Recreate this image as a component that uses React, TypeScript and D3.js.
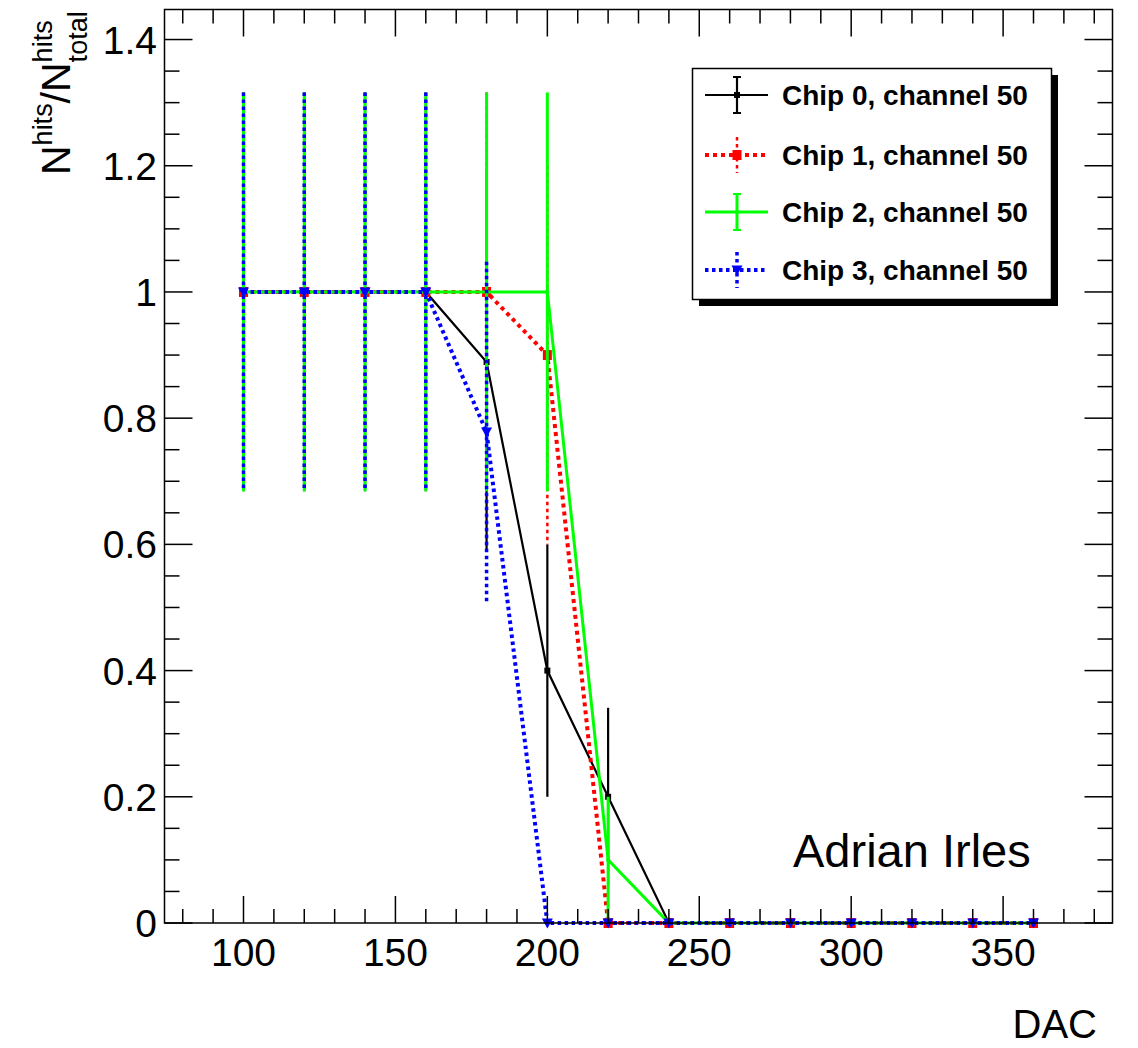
import React from "react";
import * as d3 from "d3";

const dacValues = [100, 120, 140, 160, 180, 200, 220, 240, 260, 280, 300, 320, 340, 360];
const chip0Values = [1, 1, 1, 1, 0.889, 0.4, 0.2, 0, 0, 0, 0, 0, 0, 0];
const chip0Errors = [0.316, 0.316, 0.316, 0.316, 0.3, 0.2, 0.141, 0, 0, 0, 0, 0, 0, 0];
const chip1Values = [1, 1, 1, 1, 1, 0.9, 0, 0, 0, 0, 0, 0, 0, 0];
const chip1Errors = [0.316, 0.316, 0.316, 0.316, 0.316, 0.3, 0, 0, 0, 0, 0, 0, 0, 0];
const chip2Values = [1, 1, 1, 1, 1, 1, 0.1, 0, 0, 0, 0, 0, 0, 0];
const chip2Errors = [0.316, 0.316, 0.316, 0.316, 0.316, 0.316, 0.1, 0, 0, 0, 0, 0, 0, 0];
const chip3Values = [1, 1, 1, 1, 0.778, 0, 0, 0, 0, 0, 0, 0, 0, 0];
const chip3Errors = [0.316, 0.316, 0.316, 0.316, 0.27, 0, 0, 0, 0, 0, 0, 0, 0, 0];
const seriesLabels = ["Chip 0, channel 50", "Chip 1, channel 50", "Chip 2, channel 50", "Chip 3, channel 50"];
const xMajorTicks = [100, 150, 200, 250, 300, 350];
const yMajorTicks = [0, 0.2, 0.4, 0.6, 0.8, 1, 1.2, 1.4];

const W = 1138;
const H = 1048;
const FONT = "'Liberation Sans', Arial, Helvetica, sans-serif";
const L = 164.5, R = 1112.5, T = 9.5, B = 923;

type Style = {
  color: string;
  width: number;
  dash: string | null;
  errWidth: number;
  errDash: string | null;
  marker: "square" | "bigsquare" | "dot" | "tri";
};

const styles: Style[] = [
  { color: "#000000", width: 2.2, dash: null, errWidth: 2.2, errDash: null, marker: "square" },
  { color: "#ff0000", width: 4, dash: "4,4", errWidth: 2.5, errDash: "3.5,3.5", marker: "bigsquare" },
  { color: "#00ff00", width: 3, dash: null, errWidth: 3, errDash: null, marker: "dot" },
  { color: "#0000ff", width: 4, dash: "3.5,3.5", errWidth: 3.5, errDash: "3.5,3.5", marker: "tri" },
];

function Marker({ x, y, s }: { x: number; y: number; s: Style }) {
  if (s.marker === "square") return <rect x={x - 3} y={y - 3} width={6} height={6} fill={s.color} />;
  if (s.marker === "bigsquare") return <rect x={x - 4.5} y={y - 5} width={9} height={10} fill={s.color} />;
  if (s.marker === "dot") return <circle cx={x} cy={y} r={2} fill={s.color} />;
  return <path d={`M${x - 5.5},${y - 4.5}L${x + 5.5},${y - 4.5}L${x},${y + 5.5}Z`} fill={s.color} />;
}

export default function App() {
  const x = d3.scaleLinear().domain([74, 386]).range([L, R]);
  const y = d3.scaleLinear().domain([0, 1.4476]).range([B, T]);
  const series = [
    { v: chip0Values, e: chip0Errors },
    { v: chip1Values, e: chip1Errors },
    { v: chip2Values, e: chip2Errors },
    { v: chip3Values, e: chip3Errors },
  ];
  const line = d3
    .line<number>()
    .x((_, i) => x(dacValues[i]))
    .y((d) => y(d));

  const xMinor = d3.range(80, 386, 10).filter((v) => !xMajorTicks.includes(v));
  const yMinor = d3
    .range(0, 1.4476, 0.05)
    .map((v) => +v.toFixed(2))
    .filter((v) => !yMajorTicks.some((m) => Math.abs(m - v) < 1e-6));

  const fmtY = (v: number) => String(+v.toFixed(1));

  // y label pieces (Arial metrics)
  const big = 41, small = 27;
  const wN = 0.722 * big, wHits = 1.556 * small, wSlash = 0.278 * big;
  const u0 = -175;
  const uHits1 = u0 + wN;
  const uSlash = uHits1 + wHits;
  const uN2 = uSlash + wSlash;
  const uScr = uN2 + wN;

  const legX0 = 705, legX1 = 768, legMx = 737;
  const legRows = [95, 155, 212, 270];

  return (
    <svg width={W} height={H} style={{ position: "absolute", left: 0, top: 0, background: "#fff" }} fontFamily={FONT}>
      <rect x={0} y={0} width={W} height={H} fill="#fff" />
      {/* data */}
      {series.map((sr, si) => {
        const s = styles[si];
        return (
          <g key={si}>
            {sr.v.map((v, i) =>
              sr.e[i] > 0 ? (
                <line
                  key={"e" + i}
                  x1={x(dacValues[i])}
                  x2={x(dacValues[i])}
                  y1={y(v + sr.e[i])}
                  y2={y(v - sr.e[i])}
                  stroke={s.color}
                  strokeWidth={s.errWidth}
                  strokeDasharray={s.errDash ?? undefined}
                />
              ) : null
            )}
            <path
              d={line(sr.v) ?? ""}
              fill="none"
              stroke={s.color}
              strokeWidth={s.width}
              strokeDasharray={s.dash ?? undefined}
            />
            {sr.v.map((v, i) => (
              <Marker key={"m" + i} x={x(dacValues[i])} y={y(v)} s={s} />
            ))}
          </g>
        );
      })}

      {/* frame */}
      <rect x={L} y={T} width={R - L} height={B - T} fill="none" stroke="#000" strokeWidth={1.5} />
      {/* x ticks */}
      {xMajorTicks.map((t) => (
        <g key={"xM" + t}>
          <line x1={x(t)} x2={x(t)} y1={B} y2={B - 27} stroke="#000" strokeWidth={1.5} />
          <line x1={x(t)} x2={x(t)} y1={T} y2={T + 27} stroke="#000" strokeWidth={1.5} />
          <text x={x(t)} y={966} fontSize={39} textAnchor="middle" fill="#000">
            {t}
          </text>
        </g>
      ))}
      {xMinor.map((t) => (
        <g key={"xm" + t}>
          <line x1={x(t)} x2={x(t)} y1={B} y2={B - 14} stroke="#000" strokeWidth={1.5} />
          <line x1={x(t)} x2={x(t)} y1={T} y2={T + 14} stroke="#000" strokeWidth={1.5} />
        </g>
      ))}
      {/* y ticks */}
      {yMajorTicks.map((t) => (
        <g key={"yM" + t}>
          <line x1={L} x2={L + 28} y1={y(t)} y2={y(t)} stroke="#000" strokeWidth={1.5} />
          <line x1={R} x2={R - 28} y1={y(t)} y2={y(t)} stroke="#000" strokeWidth={1.5} />
          <text x={157} y={y(t) + 14} fontSize={39} textAnchor="end" fill="#000">
            {fmtY(t)}
          </text>
        </g>
      ))}
      {yMinor.map((t) => (
        <g key={"ym" + t}>
          <line x1={L} x2={L + 15} y1={y(t)} y2={y(t)} stroke="#000" strokeWidth={1.5} />
          <line x1={R} x2={R - 15} y1={y(t)} y2={y(t)} stroke="#000" strokeWidth={1.5} />
        </g>
      ))}

      {/* axis titles */}
      <text x={1097} y={1038} fontSize={40} textAnchor="end" fill="#000">
        DAC
      </text>
      <g transform="rotate(-90)" fill="#000">
        <text x={u0} y={70} fontSize={big}>N</text>
        <text x={uHits1} y={52} fontSize={small}>hits</text>
        <text x={uSlash} y={70} fontSize={big}>/</text>
        <text x={uN2} y={70} fontSize={big}>N</text>
        <text x={uScr} y={52} fontSize={small}>hits</text>
        <text x={uScr} y={87} fontSize={small}>total</text>
      </g>

      {/* annotation */}
      <text x={793} y={867} fontSize={47} fill="#000">
        Adrian Irles
      </text>

      {/* legend */}
      <rect x={699} y={75} width={359} height={231} fill="#000" />
      <rect x={692.5} y={68.5} width={359} height={231} fill="#fff" stroke="#000" strokeWidth={1.5} />
      {styles.map((s, i) => {
        const cy = legRows[i];
        const capped = s.errDash === null;
        return (
          <g key={"leg" + i}>
            <line x1={legX0} x2={legX1} y1={cy} y2={cy} stroke={s.color} strokeWidth={s.width} strokeDasharray={s.dash ?? undefined} />
            <line x1={legMx} x2={legMx} y1={cy - 18} y2={cy + 18} stroke={s.color} strokeWidth={s.errWidth} strokeDasharray={s.errDash ?? undefined} />
            {capped && (
              <>
                <line x1={legMx - 4} x2={legMx + 4} y1={cy - 18} y2={cy - 18} stroke={s.color} strokeWidth={2} />
                <line x1={legMx - 4} x2={legMx + 4} y1={cy + 18} y2={cy + 18} stroke={s.color} strokeWidth={2} />
              </>
            )}
            <Marker x={legMx} y={cy} s={s} />
            <text x={782} y={cy + 10} fontSize={28} fontWeight="bold" fill="#000">
              {seriesLabels[i]}
            </text>
          </g>
        );
      })}
    </svg>
  );
}
